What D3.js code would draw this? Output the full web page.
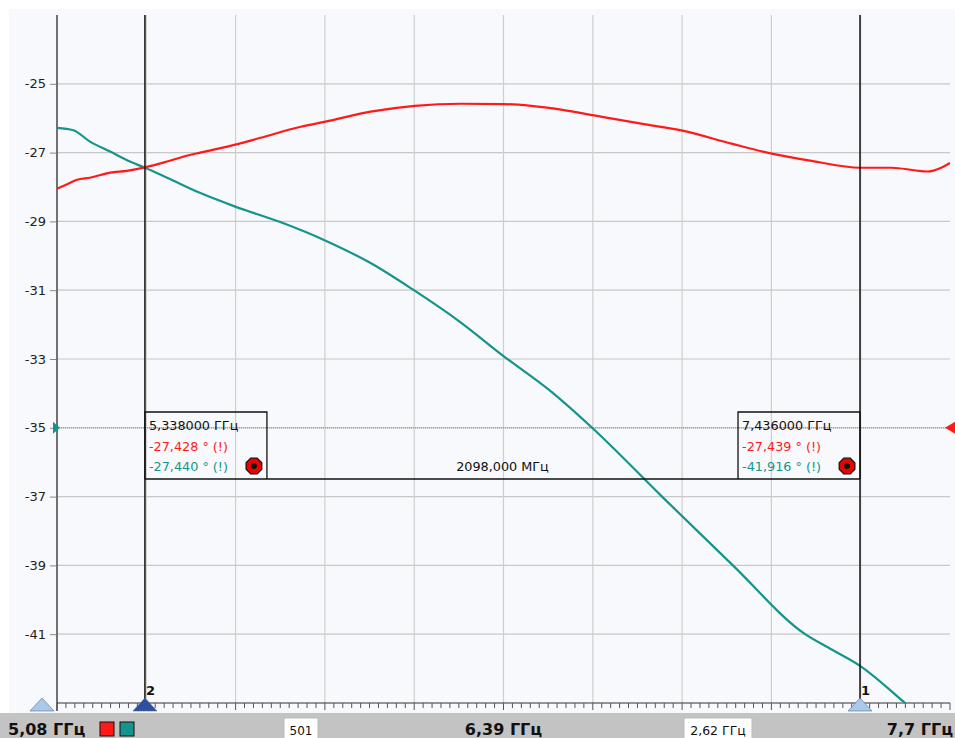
<!DOCTYPE html>
<html><head><meta charset="utf-8">
<script src="https://cdn.jsdelivr.net/npm/d3@7"></script>
<style>
html,body{margin:0;padding:0;background:#fff;}
svg{display:block;font-family:"DejaVu Sans",Verdana,sans-serif;}
</style></head>
<body>
<svg id="c" width="955" height="738"></svg>
<script>
// ---- data ----
const freqStart = 5.08, freqStop = 7.70, freqCenter = 6.39, freqSpan = 2.62, points = 501;
const yTicks = [-41, -39, -37, -35, -33, -31, -29, -27, -25];
const xGrid = [5.08, 5.342, 5.604, 5.866, 6.128, 6.39, 6.652, 6.914, 7.176, 7.438];
const refLevel = -35;

const freqRed = [5.080, 5.110, 5.139, 5.177, 5.236, 5.285, 5.338, 5.403, 5.461, 5.500, 5.603, 5.677, 5.795, 5.868, 6.000, 6.130, 6.265, 6.391, 6.471, 6.559, 6.656, 6.794, 6.915, 7.059, 7.177, 7.294, 7.436, 7.529, 7.600, 7.632, 7.676, 7.700];
const valRed  = [-28.05, -27.92, -27.79, -27.73, -27.58, -27.53, -27.43, -27.26, -27.09, -27.00, -26.77, -26.57, -26.25, -26.10, -25.81, -25.64, -25.58, -25.59, -25.64, -25.75, -25.92, -26.16, -26.36, -26.74, -27.03, -27.24, -27.44, -27.44, -27.52, -27.55, -27.43, -27.30];

const freqTeal = [5.080, 5.128, 5.177, 5.236, 5.294, 5.338, 5.403, 5.499, 5.603, 5.735, 5.868, 6.000, 6.127, 6.265, 6.388, 6.530, 6.650, 6.855, 7.063, 7.275, 7.350, 7.436, 7.574, 7.700];
const valTeal  = [-26.28, -26.35, -26.68, -26.97, -27.26, -27.44, -27.73, -28.17, -28.57, -29.02, -29.56, -30.21, -31.00, -31.94, -32.90, -33.95, -35.00, -37.00, -39.00, -41.00, -41.43, -41.92, -43.05, -44.10];

const markers = [
  {id: "2", f: 5.338, red: "-27,428 ° (!)", teal: "-27,440 ° (!)", label: "5,338000 ГГц", color: "#2e4ea3"},
  {id: "1", f: 7.436, red: "-27,439 ° (!)", teal: "-41,916 ° (!)", label: "7,436000 ГГц", color: "#a9c8ec"}
];
const deltaLabel = "2098,000 МГц";
const redColor = "#ff1a1a", tealColor = "#14948c";

// ---- layout ----
const svg = d3.select("#c");
const L = 57, R = 950, T = 15, B = 703;
const x = d3.scaleLinear().domain([freqStart, freqStop]).range([L, R]);
const y = d3.scaleLinear().domain([-43, -23]).range([B, T]);

// panel
svg.append("rect").attr("x", 9).attr("y", 9).attr("width", 946).attr("height", 704).attr("fill", "#f8f9fc");

// gridlines
svg.append("g").selectAll("line").data(yTicks).join("line")
  .attr("x1", L).attr("x2", R).attr("y1", d => y(d)).attr("y2", d => y(d))
  .attr("stroke", "#c8c8c8").attr("stroke-width", 1.2);
svg.append("g").selectAll("line").data(xGrid.slice(1)).join("line")
  .attr("x1", d => x(d)).attr("x2", d => x(d)).attr("y1", T).attr("y2", B)
  .attr("stroke", "#cfcfcf").attr("stroke-width", 1.2);

// left edge line
svg.append("line").attr("x1", L).attr("x2", L).attr("y1", T).attr("y2", B + 8)
  .attr("stroke", "#444").attr("stroke-width", 1.5);

// y axis labels
const yAxis = d3.axisLeft(y).tickValues(yTicks).tickSize(6).tickPadding(4).tickFormat(d => d);
const ya = svg.append("g").attr("transform", `translate(${L - 1},0)`).call(yAxis);
ya.select(".domain").remove();
ya.selectAll(".tick line").attr("stroke", "#888");
ya.selectAll("text").attr("font-size", 13).attr("fill", "#222").attr("font-family", "DejaVu Sans, sans-serif");

// bottom axis with minor ticks
const minor = d3.range(0, 101).map(i => freqStart + i * freqSpan / 100);
svg.append("line").attr("x1", L).attr("x2", R).attr("y1", B).attr("y2", B).attr("stroke", "#333").attr("stroke-width", 1.2);
svg.append("g").selectAll("line").data(minor).join("line")
  .attr("x1", d => x(d)).attr("x2", d => x(d)).attr("y1", B).attr("y2", (d, i) => i % 10 === 0 ? B + 7 : B + 5)
  .attr("stroke", "#555").attr("stroke-width", 1);

// reference level dotted line
svg.append("line").attr("x1", L).attr("x2", R).attr("y1", y(refLevel)).attr("y2", y(refLevel))
  .attr("stroke", "#a08484").attr("stroke-width", 1).attr("stroke-dasharray", "1,1");

// clip
svg.append("clipPath").attr("id", "clip").append("rect").attr("x", L).attr("y", T).attr("width", R - L).attr("height", B - T);

const plot = svg.append("g").attr("clip-path", "url(#clip)");
plot.append("path").datum(freqTeal.map((f, i) => [f, valTeal[i]]))
  .attr("d", d3.line().x(d => x(d[0])).y(d => y(d[1])).curve(d3.curveMonotoneX))
  .attr("fill", "none").attr("stroke", tealColor).attr("stroke-width", 2.2);
plot.append("path").datum(freqRed.map((f, i) => [f, valRed[i]]))
  .attr("d", d3.line().x(d => x(d[0])).y(d => y(d[1])).curve(d3.curveMonotoneX))
  .attr("fill", "none").attr("stroke", redColor).attr("stroke-width", 2.2);

// reference triangles
const ry = y(refLevel);
svg.append("path").attr("d", `M${L - 4},${ry - 6} L${L + 3},${ry} L${L - 4},${ry + 6} Z`).attr("fill", tealColor);
svg.append("path").attr("d", `M${R - 5},${ry} L${R + 5},${ry - 6} L${R + 5},${ry + 6} Z`).attr("fill", redColor);

// marker lines
markers.forEach(m => {
  svg.append("line").attr("x1", x(m.f)).attr("x2", x(m.f)).attr("y1", T).attr("y2", B)
    .attr("stroke", "#111").attr("stroke-width", 1.5);
});

// marker boxes
const boxTop = 412, boxBot = 479, boxW = 122;
const mx2 = x(markers[0].f), mx1 = x(markers[1].f);
const fs = 12.8;
svg.append("line").attr("x1", mx2).attr("x2", mx1).attr("y1", boxBot).attr("y2", boxBot).attr("stroke", "#111").attr("stroke-width", 1.5);
svg.append("text").attr("x", (mx2 + mx1) / 2).attr("y", boxBot - 8).attr("text-anchor", "middle")
  .attr("font-size", fs).attr("fill", "#111").text(deltaLabel);

[[markers[0], mx2], [markers[1], mx1 - boxW]].forEach(([m, bx]) => {
  const g = svg.append("g");
  g.append("path").attr("d", `M${bx},${boxBot} L${bx},${boxTop} L${bx + boxW},${boxTop} L${bx + boxW},${boxBot}`)
    .attr("fill", "none").attr("stroke", "#111").attr("stroke-width", 1.3);
  g.append("text").attr("x", bx + 4).attr("y", boxTop + 18).attr("font-size", fs).attr("fill", "#111").text(m.label);
  g.append("text").attr("x", bx + 4).attr("y", boxTop + 39).attr("font-size", fs).attr("fill", redColor).text(m.red);
  g.append("text").attr("x", bx + 4).attr("y", boxTop + 59).attr("font-size", fs).attr("fill", tealColor).text(m.teal);
  const cx = bx + 109, cy = boxTop + 54;
  const oct = d3.range(8).map(i => { const a = Math.PI / 8 + i * Math.PI / 4; return [cx + 8.5 * Math.cos(a), cy + 8.5 * Math.sin(a)]; });
  g.append("polygon").attr("points", oct.map(p => p.join(",")).join(" ")).attr("fill", "#ee0000").attr("stroke", "#111").attr("stroke-width", 1.2);
  g.append("circle").attr("cx", cx).attr("cy", cy).attr("r", 3).attr("fill", "#111");
});

// bottom triangles
function tri(cx, color) {
  svg.append("path").attr("d", `M${cx - 12},${B + 8} L${cx},${B - 5} L${cx + 12},${B + 8} Z`).attr("fill", color).attr("stroke", "#5a6a8a").attr("stroke-width", 0.6);
}
tri(42, "#a9c8ec");
markers.forEach(m => {
  tri(x(m.f), m.color);
  svg.append("text").attr("x", x(m.f) + 1).attr("y", B - 8).attr("font-size", 13).attr("font-weight", "bold").attr("fill", "#111").text(m.id);
});

// bottom bar
svg.append("rect").attr("x", 0).attr("y", 713).attr("width", 955).attr("height", 25).attr("fill", "#c3c3c3");
const fmt = v => String(v).replace(".", ",") + " ГГц";
svg.append("text").attr("x", 8).attr("y", 735).attr("font-size", 16).attr("font-weight", "bold").attr("fill", "#111").text(fmt(freqStart));
svg.append("rect").attr("x", 100).attr("y", 722).attr("width", 14).attr("height", 14).attr("fill", redColor).attr("stroke", "#111");
svg.append("rect").attr("x", 120).attr("y", 722).attr("width", 14).attr("height", 14).attr("fill", tealColor).attr("stroke", "#111");
svg.append("rect").attr("x", 284).attr("y", 718).attr("width", 34).attr("height", 21).attr("fill", "#fff").attr("stroke", "#bbb");
svg.append("text").attr("x", 301).attr("y", 735).attr("text-anchor", "middle").attr("font-size", 12).attr("fill", "#111").text(points);
svg.append("text").attr("x", x(freqCenter)).attr("y", 735).attr("text-anchor", "middle").attr("font-size", 16).attr("font-weight", "bold").attr("fill", "#111").text(fmt(freqCenter));
svg.append("rect").attr("x", 684).attr("y", 718).attr("width", 68).attr("height", 21).attr("fill", "#fff").attr("stroke", "#bbb");
svg.append("text").attr("x", 718).attr("y", 735).attr("text-anchor", "middle").attr("font-size", 12.5).attr("fill", "#111").text(fmt(freqSpan));
svg.append("text").attr("x", 953).attr("y", 735).attr("text-anchor", "end").attr("font-size", 16).attr("font-weight", "bold").attr("fill", "#111").text(fmt(freqStop));
</script>
</body></html>
